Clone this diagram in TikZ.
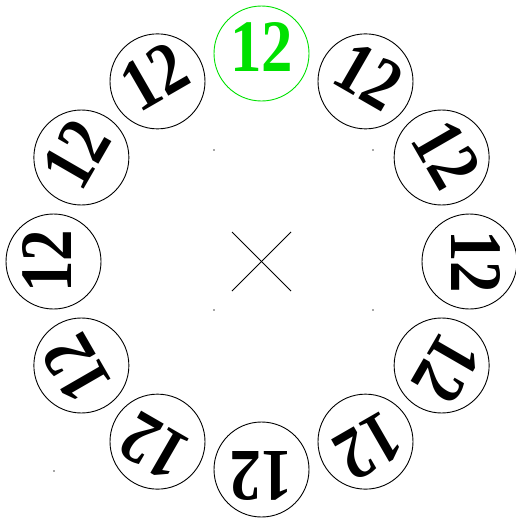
\documentclass[tikz,border=0pt]{standalone}
\usepackage{fontspec}
\usepackage{graphicx}
\setmainfont{Liberation Serif}
\definecolor{brightgreen}{RGB}{0,225,0}
\begin{document}
\begin{tikzpicture}[x=1pt,y=-1pt,
  ring/.style={circle,draw,line width=0.9pt,minimum size=95pt,inner sep=0pt},
  num/.style={font=\fontsize{74}{74}\selectfont\bfseries,inner sep=0pt},
  dotmark/.style={circle,fill=black!70,inner sep=0pt,minimum size=1.6pt},
  xline/.style={line width=0.8pt}]
\useasboundingbox (0,0) rectangle (516,522);
\coordinate (o) at (261.5,261.5);
\foreach \i in {0,...,11} {
  \pgfmathsetmacro\a{90-30*\i}
  \pgfmathsetmacro\rot{\a-90}
  \ifnum\i=0
    \node[ring,draw=brightgreen] (c\i) at ({261.5+208*cos(\a)},{261.5-208*sin(\a)}) {};
    \node[num,text=brightgreen,rotate=\rot] (t\i) at ({261.5+214*cos(\a)},{261.5-214*sin(\a)}) {\scalebox{0.85}[1]{12}};
  \else
    \node[ring] (c\i) at ({261.5+208*cos(\a)},{261.5-208*sin(\a)}) {};
    \node[num,rotate=\rot] (t\i) at ({261.5+214*cos(\a)},{261.5-214*sin(\a)}) {\scalebox{0.85}[1]{12}};
  \fi
}
\coordinate (x1) at (232,232);
\coordinate (x2) at (291,291);
\coordinate (x3) at (232,291);
\coordinate (x4) at (291,232);
\draw[xline] (x1) -- (x2);
\draw[xline] (x3) -- (x4);
\node[dotmark] (d1) at (214,150) {};
\node[dotmark] (d2) at (373,150) {};
\node[dotmark] (d3) at (214,310) {};
\node[dotmark] (d4) at (373,310) {};
\node[dotmark] (d5) at (54,471) {};
\end{tikzpicture}
\end{document}
